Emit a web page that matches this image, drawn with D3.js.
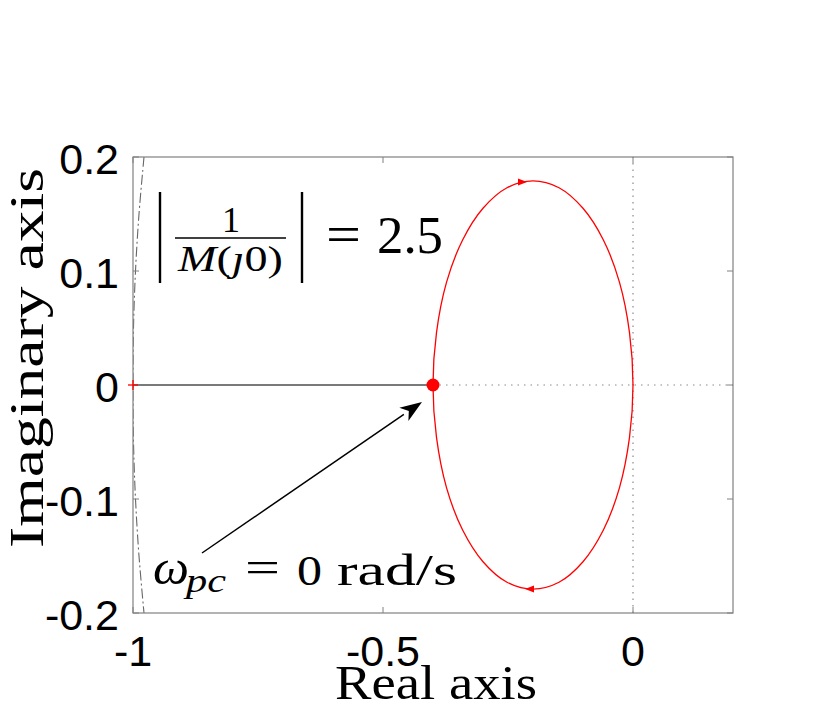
<!DOCTYPE html>
<html><head><meta charset="utf-8">
<script src="https://cdn.jsdelivr.net/npm/d3@7"></script>
<style>body{margin:0;background:#fff}svg{display:block}</style>
</head><body>
<svg id="c" width="831" height="707"></svg>
<script>
// ---- data ----
const xDomain = [-1, 0.2];
const yDomain = [-0.2, 0.2];
const xTicks = [-1, -0.5, 0];
const xTickLabels = ["-1", "-0.5", "0"];
const yTicks = [-0.2, -0.1, 0, 0.1, 0.2];
const yTickLabels = ["-0.2", "-0.1", "0", "0.1", "0.2"];
// Nyquist curve (closed loop, starting at w = 0)
const nyqRe = [-0.4, -0.393, -0.373, -0.341, -0.3, -0.252, -0.2, -0.148, -0.1, -0.059, -0.027, -0.007, 0,
               -0.007, -0.027, -0.059, -0.1, -0.148, -0.2, -0.252, -0.3, -0.341, -0.373, -0.393];
const nyqIm = [0, 0.046, 0.09, 0.127, 0.155, 0.173, 0.179, 0.173, 0.155, 0.127, 0.09, 0.046, 0,
               -0.046, -0.09, -0.127, -0.155, -0.173, -0.179, -0.173, -0.155, -0.127, -0.09, -0.046];
const arrowRe = [-0.222, -0.206];
const arrowIm = [0.178, -0.179];
const arrowDir = [1, -1];
// M-circle fragment (dash-dot)
const mcIm = [0.2, 0.15, 0.1, 0.05, 0, -0.05, -0.1, -0.15, -0.2];
const mcRe = [-0.978, -0.988, -0.995, -0.999, -1.0, -0.999, -0.995, -0.988, -0.978];
const pcPoint = [-0.4, 0];
const critPoint = [-1, 0];

// ---- layout ----
const L = 133, R = 733, T = 157, B = 613;
const svg = d3.select("#c");
const x = d3.scaleLinear().domain(xDomain).range([L, R]);
const y = d3.scaleLinear().domain(yDomain).range([B, T]);

svg.append("defs").append("clipPath").attr("id", "clip")
  .append("rect").attr("x", L).attr("y", T).attr("width", R - L).attr("height", B - T);

const g = svg.append("g").attr("clip-path", "url(#clip)");

// real axis: solid from -1 to pc point, dotted after
g.append("line").attr("x1", x(-1)).attr("x2", x(pcPoint[0])).attr("y1", y(0)).attr("y2", y(0))
  .attr("stroke", "#7a7a7a").attr("stroke-width", 1.8);
g.append("line").attr("x1", x(pcPoint[0])).attr("x2", x(xDomain[1])).attr("y1", y(0)).attr("y2", y(0))
  .attr("stroke", "#8a8a8a").attr("stroke-width", 1.2).attr("stroke-dasharray", "1.5,5");
// imaginary axis dotted
g.append("line").attr("x1", x(0)).attr("x2", x(0)).attr("y1", y(yDomain[0])).attr("y2", y(yDomain[1]))
  .attr("stroke", "#8a8a8a").attr("stroke-width", 1.2).attr("stroke-dasharray", "1.5,5");

// M-circle dash-dot
g.append("path").datum(mcRe.map((r, i) => [r, mcIm[i]]))
  .attr("d", d3.line().x(d => x(d[0])).y(d => y(d[1])).curve(d3.curveCatmullRom))
  .attr("fill", "none").attr("stroke", "#666").attr("stroke-width", 1.1)
  .attr("stroke-dasharray", "10,3,2,3");

// Nyquist curve
g.append("path").datum(nyqRe.map((r, i) => [r, nyqIm[i]]))
  .attr("d", d3.line().x(d => x(d[0])).y(d => y(d[1])).curve(d3.curveCatmullRomClosed))
  .attr("fill", "none").attr("stroke", "#ff0000").attr("stroke-width", 1.3);

// direction arrows
arrowRe.forEach((r, i) => {
  const px = x(r), py = y(arrowIm[i]), d = arrowDir[i];
  svg.append("path")
    .attr("d", `M${px + 5 * d},${py} L${px - 4 * d},${py - 3.5} L${px - 4 * d},${py + 3.5} Z`)
    .attr("fill", "#ff0000");
});

// frame
svg.append("rect").attr("x", L).attr("y", T).attr("width", R - L).attr("height", B - T)
  .attr("fill", "none").attr("stroke", "#808080").attr("stroke-width", 1.2);

// ticks (inward, both sides)
const tl = 6;
xTicks.forEach(t => {
  svg.append("line").attr("x1", x(t)).attr("x2", x(t)).attr("y1", B).attr("y2", B - tl).attr("stroke", "#808080");
  svg.append("line").attr("x1", x(t)).attr("x2", x(t)).attr("y1", T).attr("y2", T + tl).attr("stroke", "#808080");
});
yTicks.forEach(t => {
  svg.append("line").attr("x1", L).attr("x2", L + tl).attr("y1", y(t)).attr("y2", y(t)).attr("stroke", "#808080");
  svg.append("line").attr("x1", R).attr("x2", R - tl).attr("y1", y(t)).attr("y2", y(t)).attr("stroke", "#808080");
});

// tick labels
const tf = "'Liberation Sans', Arial, sans-serif";
xTicks.forEach((t, i) => {
  svg.append("text").attr("x", x(t)).attr("y", 666).attr("text-anchor", "middle")
    .attr("font-family", tf).attr("font-size", 43).text(xTickLabels[i]);
});
yTicks.forEach((t, i) => {
  svg.append("text").attr("x", 119).attr("y", y(t) + 17).attr("text-anchor", "end")
    .attr("font-family", tf).attr("font-size", 43).text(yTickLabels[i]);
});

// axis titles
const sf = "'Liberation Serif', 'Times New Roman', serif";
svg.append("text").attr("x", 436).attr("y", 699).attr("text-anchor", "middle")
  .attr("font-family", sf).attr("font-size", 48).attr("textLength", 202).attr("lengthAdjust", "spacingAndGlyphs")
  .text("Real axis");
svg.append("text").attr("transform", "translate(43,358) rotate(-90)").attr("text-anchor", "middle")
  .attr("font-family", sf).attr("font-size", 48).attr("textLength", 380).attr("lengthAdjust", "spacingAndGlyphs")
  .text("Imaginary axis");

// critical point marker
svg.append("line").attr("x1", x(critPoint[0]) - 5).attr("x2", x(critPoint[0]) + 5)
  .attr("y1", y(critPoint[1])).attr("y2", y(critPoint[1])).attr("stroke", "#ff0000").attr("stroke-width", 1.3);
svg.append("line").attr("x1", x(critPoint[0])).attr("x2", x(critPoint[0]))
  .attr("y1", y(critPoint[1]) - 5).attr("y2", y(critPoint[1]) + 5).attr("stroke", "#ff0000").attr("stroke-width", 1.3);

// phase crossover point
svg.append("circle").attr("cx", x(pcPoint[0])).attr("cy", y(pcPoint[1])).attr("r", 6.5).attr("fill", "#ff0000");

// annotation arrow
const ax0 = 202, ay0 = 553, ax1 = 422, ay1 = 402;
const ang = Math.atan2(ay1 - ay0, ax1 - ax0);
const hl = 22, hw = 8;
const bx = ax1 - hl * Math.cos(ang), by = ay1 - hl * Math.sin(ang);
svg.append("line").attr("x1", ax0).attr("y1", ay0).attr("x2", bx).attr("y2", by)
  .attr("stroke", "#000").attr("stroke-width", 1.5);
svg.append("path").attr("d",
  `M${ax1},${ay1} L${bx + hw * Math.sin(ang)},${by - hw * Math.cos(ang)} L${bx + 6 * Math.cos(ang)},${by + 6 * Math.sin(ang)} L${bx - hw * Math.sin(ang)},${by + hw * Math.cos(ang)} Z`)
  .attr("fill", "#000");

// |1/M(j0)| = 2.5 label
svg.append("line").attr("x1", 160).attr("x2", 160).attr("y1", 192).attr("y2", 283).attr("stroke", "#000").attr("stroke-width", 2.4);
svg.append("line").attr("x1", 302).attr("x2", 302).attr("y1", 192).attr("y2", 283).attr("stroke", "#000").attr("stroke-width", 2.4);
svg.append("line").attr("x1", 175).attr("x2", 286).attr("y1", 238).attr("y2", 238).attr("stroke", "#000").attr("stroke-width", 1.6);
svg.append("text").attr("x", 231).attr("y", 232).attr("text-anchor", "middle")
  .attr("font-family", sf).attr("font-size", 36).text("1");
const den = svg.append("text").attr("x", 178).attr("y", 271)
  .attr("font-family", sf).attr("font-size", 36).attr("textLength", 105).attr("lengthAdjust", "spacingAndGlyphs");
den.append("tspan").attr("font-style", "italic").text("M");
den.append("tspan").text("(");
den.append("tspan").attr("font-style", "italic").text("ȷ");
den.append("tspan").text("0)");
svg.append("text").attr("x", 326).attr("y", 252)
  .attr("font-family", sf).attr("font-size", 52).attr("textLength", 35).attr("lengthAdjust", "spacingAndGlyphs").text("=");
svg.append("text").attr("x", 377).attr("y", 253)
  .attr("font-family", sf).attr("font-size", 52).attr("textLength", 66).attr("lengthAdjust", "spacingAndGlyphs").text("2.5");

// omega_pc label
svg.append("text").attr("x", 153).attr("y", 584).attr("font-family", sf).attr("font-style", "italic")
  .attr("font-size", 48).attr("textLength", 36).attr("lengthAdjust", "spacingAndGlyphs").text("ω");
svg.append("text").attr("x", 186).attr("y", 592).attr("font-family", sf).attr("font-style", "italic")
  .attr("font-size", 34).attr("textLength", 40).attr("lengthAdjust", "spacingAndGlyphs").text("pc");
svg.append("text").attr("x", 245).attr("y", 582).attr("font-family", sf)
  .attr("font-size", 44).attr("textLength", 35).attr("lengthAdjust", "spacingAndGlyphs").text("=");
svg.append("text").attr("x", 297).attr("y", 585).attr("font-family", sf)
  .attr("font-size", 42).attr("textLength", 25).attr("lengthAdjust", "spacingAndGlyphs").text("0");
svg.append("text").attr("x", 337).attr("y", 585).attr("font-family", sf)
  .attr("font-size", 44).attr("textLength", 120).attr("lengthAdjust", "spacingAndGlyphs").text("rad/s");
</script>
</body></html>
